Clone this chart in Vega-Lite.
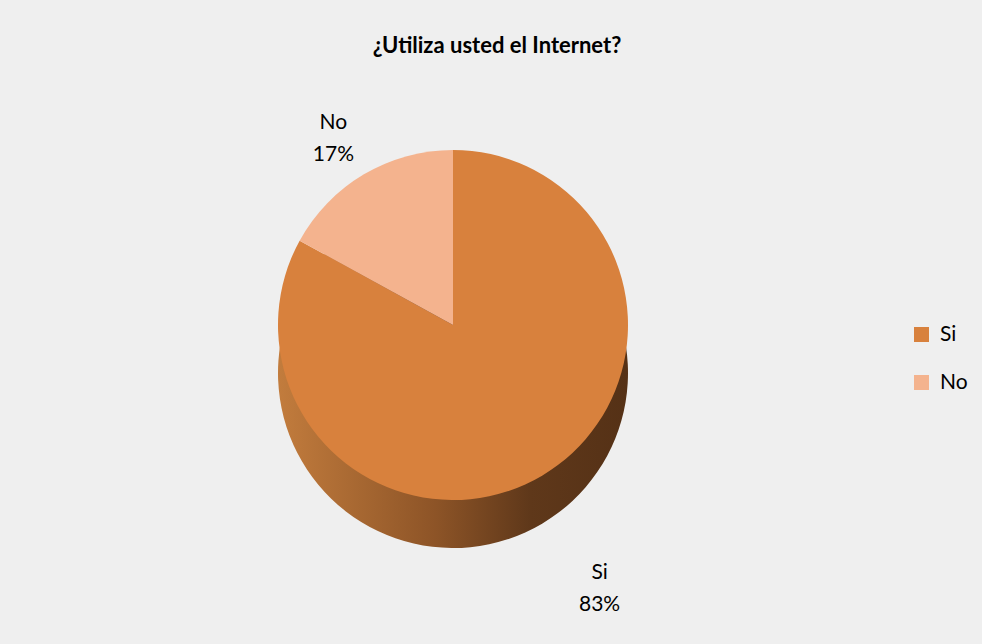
{
  "$schema": "https://vega.github.io/schema/vega-lite/v6.json",
  "autosize": {"type": "none"},
  "padding": {"left": 8, "top": 8, "right": 0, "bottom": 0},
  "width": 1000,
  "height": 660,
  "background": "#efefef",
  "config": {
    "view": {"stroke": null},
    "font": "Lato"
  },
  "title": {
    "text": "¿Utiliza usted el Internet?",
    "fontSize": 22,
    "fontWeight": "bold",
    "font": "Lato",
    "color": "#000000",
    "anchor": "middle",
    "dy": 54,
    "dx": -11
  },
  "data": {
    "values": [
      {"respuesta": "Si", "porcentaje": 83},
      {"respuesta": "No", "porcentaje": 17}
    ]
  },
  "transform": [
    {"stack": "porcentaje", "groupby": [], "sort": [{"field": "porcentaje", "order": "descending"}], "as": ["ini", "fin"]},
    {"calculate": "(datum.ini + datum.fin) / 2", "as": "medio"},
    {"calculate": "[datum.respuesta, datum.porcentaje + '%']", "as": "etiqueta"}
  ],
  "layer": [
    {
      "mark": {
        "type": "arc",
        "radius": 175,
        "xOffset": -55,
        "yOffset": 35,
        "color": {
          "gradient": "linear",
          "x1": 0, "y1": 0, "x2": 1, "y2": 0,
          "stops": [
            {"offset": 0, "color": "#c27c3d"},
            {"offset": 0.45, "color": "#8d5427"},
            {"offset": 0.72, "color": "#5f381a"},
            {"offset": 1, "color": "#553116"}
          ]
        }
      },
      "encoding": {
        "theta": {"field": "ini", "type": "quantitative", "scale": {"domain": [0, 100]}},
        "theta2": {"field": "fin"}
      }
    },
    {
      "mark": {"type": "arc", "radius": 175, "xOffset": -55, "yOffset": -13},
      "encoding": {
        "theta": {"field": "ini", "type": "quantitative", "scale": {"domain": [0, 100]}},
        "theta2": {"field": "fin"},
        "color": {
          "field": "respuesta",
          "type": "nominal",
          "sort": ["Si", "No"],
          "scale": {"domain": ["Si", "No"], "range": ["#d8813d", "#f4b38e"]},
          "legend": {
            "orient": "none",
            "legendX": 903,
            "legendY": 316,
            "title": null,
            "symbolType": "square",
            "symbolSize": 225,
            "symbolStrokeWidth": 0,
            "labelFontSize": 21,
            "labelFont": "Lato",
            "labelColor": "#000000",
            "labelOffset": 8,
            "rowPadding": 26
          }
        }
      }
    },
    {
      "transform": [{"filter": "datum.respuesta == 'Si'"}],
      "mark": {"type": "text", "radius": 288, "xOffset": -55, "yOffset": -13, "fontSize": 21, "font": "Lato", "color": "#000000", "lineHeight": 32, "align": "center", "baseline": "middle"},
      "encoding": {
        "theta": {"field": "medio", "type": "quantitative", "scale": {"domain": [0, 100]}},
        "text": {"field": "etiqueta"}
      }
    },
    {
      "transform": [{"filter": "datum.respuesta == 'No'"}],
      "mark": {"type": "text", "radius": 235, "xOffset": -55, "yOffset": -13, "fontSize": 21, "font": "Lato", "color": "#000000", "lineHeight": 32, "align": "center", "baseline": "middle"},
      "encoding": {
        "theta": {"field": "medio", "type": "quantitative", "scale": {"domain": [0, 100]}},
        "text": {"field": "etiqueta"}
      }
    }
  ]
}
